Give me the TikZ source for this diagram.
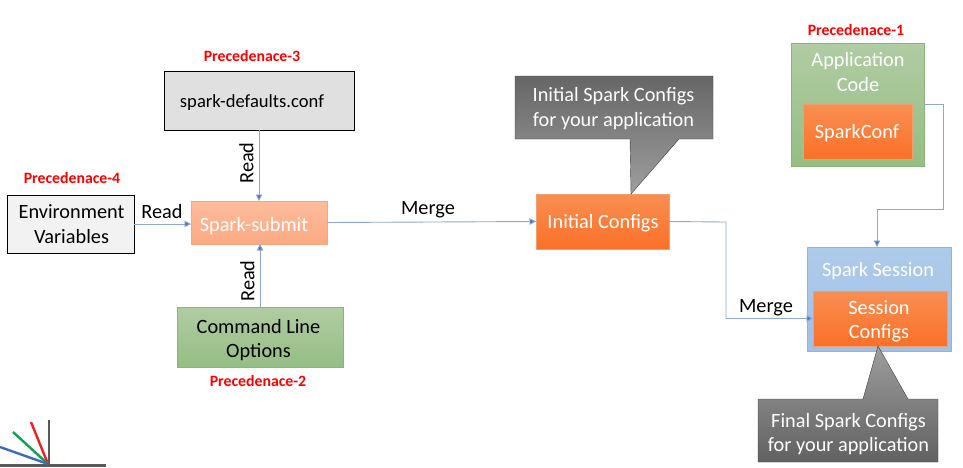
\documentclass[tikz,border=0pt]{standalone}
\usepackage{fontspec}
\setmainfont{Carlito}
\usetikzlibrary{arrows.meta}
\definecolor{conn}{HTML}{8CA8D8}
\definecolor{tipc}{HTML}{4472C4}
\definecolor{orange1}{HTML}{F98F52}
\definecolor{orange2}{HTML}{FB7028}
\definecolor{orange3}{HTML}{F0A070}
\definecolor{green1}{HTML}{B0CCA3}
\definecolor{green2}{HTML}{95BE83}
\definecolor{green3}{HTML}{8DB37A}
\definecolor{submitA}{HTML}{FDBC9C}
\definecolor{submitB}{HTML}{FCA984}
\definecolor{submit3}{HTML}{F4A87C}
\definecolor{session1}{HTML}{AFCBEA}
\definecolor{session2}{HTML}{A0C0E6}
\definecolor{session3}{HTML}{8FB4E0}
\definecolor{logogray}{HTML}{595959}
\definecolor{logored}{HTML}{F02020}
\definecolor{logogreen}{HTML}{10A050}
\definecolor{logoblue}{HTML}{3A6DB5}
\tikzset{
  x=1pt,y=-1pt,
  lbl/.style={font=\fontsize{20.3}{24.5}\selectfont,align=center,inner sep=0pt,text=black},
  wlbl/.style={lbl,text=white},
  prec/.style={font=\fontsize{15.8}{18}\selectfont\bfseries,text=red,inner sep=0pt},
  boxx/.style={inner sep=0pt,outer sep=0pt},
  orangebox/.style={boxx,draw=orange3,top color=orange1,bottom color=orange2},
  greenbox/.style={boxx,draw=green3,top color=green1,bottom color=green2},
  conn/.style={draw=conn,line width=0.9pt,-{Triangle[length=6.5pt,width=6.5pt,fill=tipc]}},
}
\begin{document}
\begin{tikzpicture}
\useasboundingbox (0,0) rectangle (963,467);
% logo
\fill[logogray] (47.6,420) rectangle (50.4,466);
\fill[logogray] (0,464) rectangle (106,467);
\draw[line width=2.4pt,draw=logored] (31,422) -- (48,464);
\draw[line width=2.4pt,draw=logogreen] (13,432) -- (48,464);
\draw[line width=2.4pt,draw=logoblue] (0,447) -- (48,464);
% boxes
\node[boxx,draw=black,fill=black!12,line width=1pt,minimum width=190pt,minimum height=59pt] (defaults) at (259,100.5) {};
\node[lbl,font=\fontsize{18.6}{24}\selectfont] (defaultstext) at (252,103) {spark-defaults.conf};
\node[boxx,draw=black,fill=black!5,line width=1pt,minimum width=127pt,minimum height=58pt] (env) at (70.5,224) {};
\node[lbl] (envtext) at (71.5,224) {Environment\\Variables};
\node[boxx,draw=submit3,top color=submitA,bottom color=submitB,minimum width=136pt,minimum height=43pt] (submit) at (259,222.5) {};
\node[wlbl] (submittext) at (254,226) {Spark-submit};
\node[greenbox,minimum width=166pt,minimum height=60pt] (cmd) at (260,337) {};
\node[lbl] (cmdtext) at (258.5,340) {Command Line\\Options};
\node[orangebox,minimum width=133pt,minimum height=55pt] (initial) at (602.5,221.5) {};
\node[wlbl] (initialtext) at (603,223.5) {Initial Configs};
\node[greenbox,minimum width=133pt,minimum height=123pt] (app) at (857.5,104.5) {};
\node[wlbl] (apptext) at (858,72) {Application\\Code};
\node[orangebox,minimum width=109pt,minimum height=55pt] (sparkconf) at (857.5,131.5) {};
\node[wlbl] (sparkconftext) at (857,133.5) {SparkConf};
\node[boxx,draw=session3,top color=session1,bottom color=session2,minimum width=144pt,minimum height=104pt] (session) at (879,299) {};
\node[wlbl] (sessiontext) at (878,271.5) {Spark Session};
\node[orangebox,minimum width=134pt,minimum height=55pt] (sesscfg) at (880,318.5) {};
\node[wlbl] (sesscfgtext) at (879,321.5) {Session\\Configs};
% callouts
\path[draw=black!75,top color=black!60,bottom color=black!38]
  (515,76) -- (713,76) -- (713,139) -- (679,139) -- (631,194) -- (630,139) -- (515,139) -- cycle;
\node[wlbl] (calloutA) at (613.5,108.5) {Initial Spark Configs\\for your application};
\path[draw=black!75,top color=black!38,bottom color=black!62]
  (878,346) -- (908,399) -- (938,399) -- (938,462) -- (758,462) -- (758,399) -- (863,399) -- cycle;
\node[wlbl] (calloutB) at (848.5,434) {Final Spark Configs\\for your application};
% connectors
\draw[conn] (defaults.south) -- (submit.north);
\draw[conn] (cmd.north) -- (cmd.north |- submit.south);
\draw[conn] (env.east) -- (submit.west |- env.east);
\draw[conn] (submit.east) -- (initial.west);
\coordinate (a1) at (726,222);
\coordinate (a2) at (726,318.5);
\draw[conn] (initial.east) -- (a1) -- (a2) -- (sesscfg.west);
\coordinate (b1) at (943,104.5);
\coordinate (b2) at (943,209);
\coordinate (b3) at (877,209);
\draw[conn] (app.east) -- (b1) -- (b2) -- (b3) -- (b3 |- session.north);
% labels
\node[lbl] (readA) at (162,212) {Read};
\node[lbl,rotate=90] (readB) at (246.5,163) {Read};
\node[lbl,rotate=90] (readC) at (247.5,281) {Read};
\node[lbl] (mergeA) at (428,210) {Merge};
\node[lbl] (mergeB) at (766,307.5) {Merge};
\node[prec] (p1) at (856,30) {Precedenace-1};
\node[prec] (p2) at (258,381) {Precedenace-2};
\node[prec] (p3) at (252,56.5) {Precedenace-3};
\node[prec] (p4) at (72,178) {Precedenace-4};
\end{tikzpicture}
\end{document}
